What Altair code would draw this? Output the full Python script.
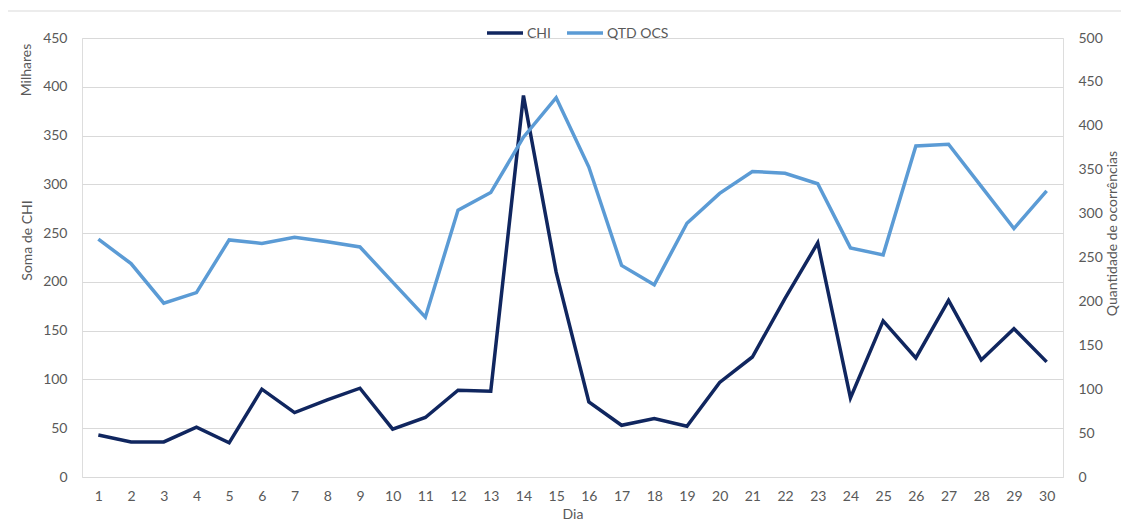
import altair as alt
import pandas as pd

days = list(range(1, 31))
chi = [43, 36, 36, 51, 35, 90, 66, 79, 91, 49, 61, 89, 88, 391, 210, 77, 53, 60, 52, 97,
       123, 183, 240, 81, 160, 122, 181, 120, 152, 118]
qtd = [271, 243, 198, 210, 270, 266, 273, 268, 262, 222, 182, 304, 324, 387, 432, 353, 241, 219, 289, 323,
       348, 346, 334, 261, 253, 377, 379, 331, 283, 326]
series = ["CHI", "QTD OCS"]
colors = ["#10265f", "#5b9bd5"]

df = pd.DataFrame({"Dia": days, "CHI": chi, "QTD OCS": qtd})

FONT = "Lato"
GREY = "#595959"
color_scale = alt.Scale(domain=series, range=colors)
x_enc = alt.X("Dia:O", title="Dia",
              scale=alt.Scale(type="point", padding=0.5),
              axis=alt.Axis(labelAngle=0, ticks=False, tickSize=0, domain=False, grid=False,
                            labelPadding=12, labelFontSize=14, labelColor=GREY, labelFont=FONT,
                            titleFont=FONT, titleFontSize=14, titleColor=GREY, titleFontWeight="normal",
                            titleY=30))

base = alt.Chart(df)

chi_line = base.transform_calculate(serie="'CHI'").mark_line(strokeWidth=3.5).encode(
    x=x_enc,
    y=alt.Y("CHI:Q", title="Soma de CHI",
            scale=alt.Scale(domain=[0, 450], nice=False),
            axis=alt.Axis(orient="left", values=list(range(0, 451, 50)), grid=True, gridColor="#d9d9d9",
                          gridWidth=1, domain=False, ticks=False, tickSize=0, labelPadding=15,
                          labelFontSize=14, labelColor=GREY, labelFont=FONT,
                          titleFont=FONT, titleFontSize=14, titleColor=GREY, titleFontWeight="normal",
                          titleAngle=270, titleX=-55, titleY=202, titleBaseline="middle", titleAlign="center")),
    color=alt.Color("serie:N", scale=color_scale, legend=None),
)

qtd_line = base.transform_calculate(serie="'QTD OCS'").mark_line(strokeWidth=3.5).encode(
    x=x_enc,
    y=alt.Y("QTD OCS:Q", title="Quantidade de ocorrências",
            scale=alt.Scale(domain=[0, 500], nice=False),
            axis=alt.Axis(orient="right", values=list(range(0, 501, 50)), grid=False, domain=False,
                          ticks=False, tickSize=0, labelPadding=15,
                          labelFontSize=14, labelColor=GREY, labelFont=FONT,
                          titleFont=FONT, titleFontSize=14, titleColor=GREY, titleFontWeight="normal",
                          titleAngle=270, titleX=49, titleY=195, titleBaseline="middle", titleAlign="center")),
    color=alt.Color("serie:N", scale=color_scale, legend=None),
)

# legend (manual, positioned like the reference)
leg_data = alt.Data(values=[{"s": s} for s in series])
def leg_item(name, x0):
    d = alt.Chart(leg_data).transform_filter(alt.datum.s == name)
    sym = d.mark_rule(strokeWidth=3.5).encode(
        x=alt.value(x0), x2=alt.value(x0 + 36), y=alt.value(-5),
        color=alt.Color("s:N", scale=color_scale, legend=None))
    lab = d.mark_text(align="left", baseline="middle", font=FONT, fontSize=14, color=GREY).encode(
        text="s:N", x=alt.value(x0 + 40), y=alt.value(-4))
    return [sym, lab]

legend_layers = leg_item("CHI", 405) + leg_item("QTD OCS", 485)

one = alt.Data(values=[{"t": "Milhares"}])
milhares = alt.Chart(one).mark_text(angle=270, font=FONT, fontSize=14, color=GREY,
                                    baseline="middle", align="center").encode(
    text="t:N", x=alt.value(-55), y=alt.value(32))

border = alt.Chart(alt.Data(values=[{"a": 1}])).mark_rect(fill=None, fillOpacity=0, stroke="#d9d9d9",
                                                          strokeWidth=1).encode(
    x=alt.value(-75), x2=alt.value(1050), y=alt.value(-27), y2=alt.value(520))

chart = alt.layer(border, chi_line, qtd_line, milhares, *legend_layers).resolve_scale(
    y="independent").properties(
    width=981, height=439,
    autosize=alt.AutoSizeParams(type="none"),
    padding={"left": 74, "top": 30, "right": 58, "bottom": 46},
).configure_view(stroke=None).configure(background="white")

chart.save("out.html", embed_options={"renderer": "svg", "actions": False})
